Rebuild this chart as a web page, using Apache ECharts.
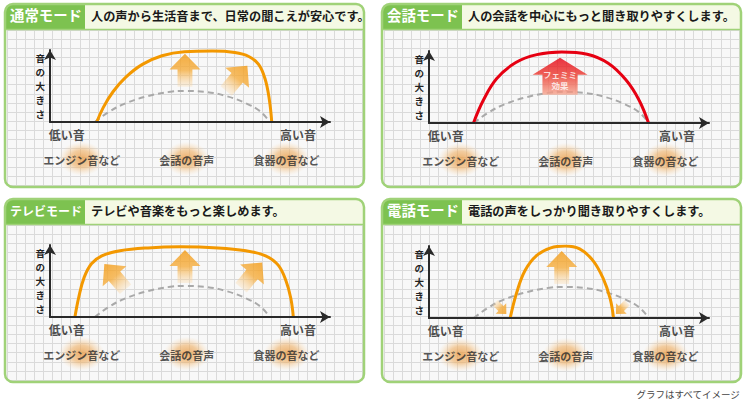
<!DOCTYPE html>
<html>
<head>
<meta charset="utf-8">
<script src="https://cdn.jsdelivr.net/npm/echarts@6/dist/echarts.min.js"></script>
<style>
html, body { margin: 0; padding: 0; background: #fff; }
#chart { width: 747px; height: 403px; }
</style>
</head>
<body>
<div id="chart"></div>
<script>
// panel headings
const modeNames = ['通常モード', '会話モード', 'テレビモード', '電話モード'];
const modeTexts = [
    '人の声から生活音まで、日常の聞こえが安心です。',
    '人の会話を中心にもっと聞き取りやすくします。',
    'テレビや音楽をもっと楽しめます。',
    '電話の声をしっかり聞き取りやすくします。'
];

// x = pitch (0 low .. 100 high), y = loudness (0 .. 100)
const baseline = [[16, 0], [21, 14], [27, 26], [35, 36], [43, 42], [48, 43], [55, 42], [63, 36], [70, 26], [75, 15], [78.5, 0]];
const normalCurve = [[16.7, 0], [19, 20], [22.5, 42], [27, 62], [33, 80], [40, 92], [48, 97.5], [58, 98.5], [66, 96.5], [71, 91], [74.5, 80], [76.8, 60], [78.3, 32], [79.2, 0]];
const conversationCurve = [[15.9, 0], [19.4, 31.5], [24.2, 61.7], [31, 84], [38.5, 95], [47.4, 98.6], [56.5, 95.5], [64, 83], [70.3, 60], [75, 32], [78.4, 0]];
const tvCurve = [[8.9, 0], [10.3, 28], [12.2, 55], [14.8, 74], [18.5, 85], [25, 92], [35, 96], [46.4, 97.5], [60, 96], [70, 92], [77, 85], [81.5, 72], [84.3, 50], [86, 26], [86.9, 0]];
const phoneCurve = [[29, 0], [31.3, 35], [34.3, 66], [38.5, 87], [43.5, 97.5], [48.6, 100], [53.8, 96], [58.5, 80], [62.2, 55], [64.7, 27], [65.9, 0]];

// boost arrows: [x, y, direction in degrees]
const normalArrows = [[48.2, 72, 0], [66.7, 60.7, -40]];
const tvArrows = [[23.2, 56, 40], [48.2, 70, 0], [72, 58.3, -40]];
const phoneArrows = [[47.4, 70, 0]];
const phoneCutArrows = [[25.6, 13.5, -135], [68.8, 13.5, 135]];
const femimiArrow = [[46.8, 65]];
const femimiLabel = 'フェミミ\n効果';

const freqLabels = ['エンジン音など', '会話の音声', '食器の音など'];
const freqLabelX = [11.3, 48.8, 84.5];
const freqLabelY = -51;
const axisEnds = ['低い音', '高い音'];
const axisEndX = [6, 88.6];
const axisEndY = -18;
const yName = '音の大きさ';
const footnote = 'グラフはすべてイメージ';

const FONT = '"Noto Sans CJK JP", "Noto Sans CJK SC", sans-serif';
const boxes = [
    { x: 5, y: 4, ax: 50, ay: 122 },
    { x: 382, y: 4, ax: 429, ay: 123 },
    { x: 5, y: 199, ax: 50, ay: 317 },
    { x: 382, y: 199, ax: 429, ay: 318 }
];
const W = 359, H = 183, AXW = 280, AXH = 72, TAB = 80;
const curves = [normalCurve, conversationCurve, tvCurve, phoneCurve];
const curveColors = ['#f39800', '#e60012', '#f39800', '#f39800'];
const UP = 'path://M50,0 L100,48 L74,48 L74,100 L26,100 L26,48 L0,48 Z';
const FEMIMI = 'path://M50,0 L100,46 L82,46 L82,100 L18,100 L18,46 L0,46 Z';

const orangeFade = {
    type: 'linear', x: 0, y: 0, x2: 0, y2: 1,
    colorStops: [
        { offset: 0, color: '#f39a12' },
        { offset: 0.5, color: '#f5ad3e' },
        { offset: 1, color: 'rgba(250,215,165,0.35)' }
    ]
};
const redFade = {
    type: 'linear', x: 0, y: 0, x2: 0, y2: 1,
    colorStops: [
        { offset: 0, color: '#e60012' },
        { offset: 0.5, color: '#ec3d30' },
        { offset: 1, color: '#f6a690' }
    ]
};
const blob = {
    type: 'radial', x: 0.5, y: 0.5, r: 0.5,
    colorStops: [
        { offset: 0, color: 'rgba(232,150,60,0.95)' },
        { offset: 0.5, color: 'rgba(238,175,100,0.75)' },
        { offset: 1, color: 'rgba(248,215,170,0)' }
    ]
};

const chart = echarts.init(document.getElementById('chart'), null, { renderer: 'svg' });

const grid = [], xAxis = [], yAxis = [], series = [], title = [], graphic = [];
const hidden = { axisTick: { show: false }, axisLabel: { show: false } };

function arrowData(list) {
    return list.map(a => ({ value: [a[0], a[1]], symbolRotate: a[2] }));
}

boxes.forEach((b, i) => {
    const paper = 2 * i, plot = 2 * i + 1;
    // graph paper
    grid.push({ left: b.x + 2, top: b.y + 26, width: W - 4, height: H - 28 });
    xAxis.push(Object.assign({ gridIndex: paper, type: 'value', min: 0, max: 39, interval: 1, z: 1,
        axisLine: { show: false }, splitLine: { lineStyle: { color: '#dadada', width: 1 } } }, hidden));
    yAxis.push(Object.assign({ gridIndex: paper, type: 'value', min: 0, max: 17, interval: 1, z: 1,
        axisLine: { show: false }, splitLine: { lineStyle: { color: '#dadada', width: 1 } } }, hidden));
    // plot area
    grid.push({ left: b.ax, top: b.ay - AXH, width: AXW, height: AXH });
    const axLine = { show: true, symbol: ['none', 'arrow'], symbolSize: [9, 10], lineStyle: { color: '#2a2a2a', width: 2 } };
    xAxis.push(Object.assign({ gridIndex: plot, type: 'value', min: 0, max: 100, z: 5,
        axisLine: axLine, splitLine: { show: false } }, hidden));
    yAxis.push(Object.assign({ gridIndex: plot, type: 'value', min: 0, max: 100, z: 5,
        axisLine: axLine, splitLine: { show: false },
        name: yName.split('').join('\n'), nameLocation: 'middle', nameRotate: 0, nameGap: 5,
        nameTextStyle: { fontFamily: FONT, fontSize: 9.5, fontWeight: 'bold', color: '#222', lineHeight: 14 } }, hidden));

    const ax = { xAxisIndex: plot, yAxisIndex: plot, silent: true };
    series.push(Object.assign({ type: 'scatter', clip: false, z: 2, symbol: 'circle', symbolSize: [46, 34],
        itemStyle: { color: blob },
        label: { show: true, position: 'inside', offset: [0, 1], formatter: '{b}', fontFamily: FONT,
            fontSize: 11, fontWeight: 'bold', color: '#2b2b2b' },
        data: freqLabels.map((t, k) => ({ name: t, value: [freqLabelX[k], freqLabelY] })) }, ax));
    series.push(Object.assign({ type: 'scatter', clip: false, z: 2, symbolSize: 1,
        itemStyle: { color: 'rgba(0,0,0,0)' },
        label: { show: true, position: 'inside', formatter: '{b}', fontFamily: FONT,
            fontSize: 12, fontWeight: 'bold', color: '#222' },
        data: axisEnds.map((t, k) => ({ name: t, value: [axisEndX[k], axisEndY] })) }, ax));
    series.push(Object.assign({ type: 'line', smooth: 0.4, symbol: 'none', z: 3,
        lineStyle: { color: '#a9a9a9', width: 2, type: [6, 4] }, data: baseline }, ax));
    series.push(Object.assign({ type: 'line', smooth: 0.4, symbol: 'none', z: 4,
        lineStyle: { color: curveColors[i], width: 3 }, data: curves[i] }, ax));

    // header decoration
    graphic.push({ type: 'rect', silent: true, z: 0, shape: { x: b.x, y: b.y, width: W, height: H, r: 8 }, style: { fill: '#f8f8f8' } });
    graphic.push({ type: 'rect', silent: true, z: 2, shape: { x: b.x, y: b.y, width: W, height: 25, r: [8, 8, 0, 0] }, style: { fill: '#f4f9e4' } });
    graphic.push({ type: 'rect', silent: true, z: 3, shape: { x: b.x, y: b.y, width: TAB, height: 25, r: [8, 0, 0, 0] }, style: { fill: '#7dc250' } });
    graphic.push({ type: 'line', silent: true, z: 3, shape: { x1: b.x, y1: b.y + 25.5, x2: b.x + W, y2: b.y + 25.5 }, style: { stroke: '#a0d278', lineWidth: 1.5 } });
    graphic.push({ type: 'rect', silent: true, z: 8, shape: { x: b.x, y: b.y, width: W, height: H, r: 8 }, style: { fill: 'none', stroke: '#a0d278', lineWidth: 2.5 } });

    const tabSize = Math.min(14.5, 72 / modeNames[i].length);
    title.push({ text: modeNames[i], left: b.x + TAB / 2 + 1, textAlign: 'center', top: b.y + 12.5 - tabSize * 0.62, padding: 0,
        textStyle: { fontFamily: FONT, fontSize: tabSize, fontWeight: 'bold', color: '#fff' } });
    title.push({ text: modeTexts[i], left: b.x + 86, top: b.y + 6, padding: 0,
        textStyle: { fontFamily: FONT, fontSize: 12.2, fontWeight: 'bold', color: '#1a1a1a' } });
});

function arrowSeries(p, list, size) {
    return { type: 'scatter', xAxisIndex: 2 * p + 1, yAxisIndex: 2 * p + 1, silent: true, clip: false, z: 3,
        symbol: UP, symbolSize: size, itemStyle: { color: orangeFade }, data: arrowData(list) };
}
series.push(arrowSeries(0, normalArrows, [31, 33]));
series.push(arrowSeries(2, tvArrows, [31, 33]));
series.push(arrowSeries(3, phoneArrows, [31, 33]));
series.push(arrowSeries(3, phoneCutArrows, [15, 16]));
series.push({ type: 'scatter', xAxisIndex: 3, yAxisIndex: 3, silent: true, clip: false, z: 3,
    symbol: FEMIMI, symbolSize: [55, 37], itemStyle: { color: redFade },
    label: { show: true, position: 'inside', offset: [0, 3], formatter: femimiLabel, fontFamily: FONT,
        fontSize: 8.5, fontWeight: 'bold', color: '#fff', lineHeight: 11 },
    data: femimiArrow });

title.push({ text: footnote, right: 6, top: 389, padding: 0,
    textStyle: { fontFamily: FONT, fontSize: 9.5, fontWeight: 'normal', color: '#444' } });

chart.setOption({
    animation: false,
    backgroundColor: '#fff',
    title: title,
    graphic: { elements: graphic },
    grid: grid,
    xAxis: xAxis,
    yAxis: yAxis,
    series: series
});
</script>
</body>
</html>
